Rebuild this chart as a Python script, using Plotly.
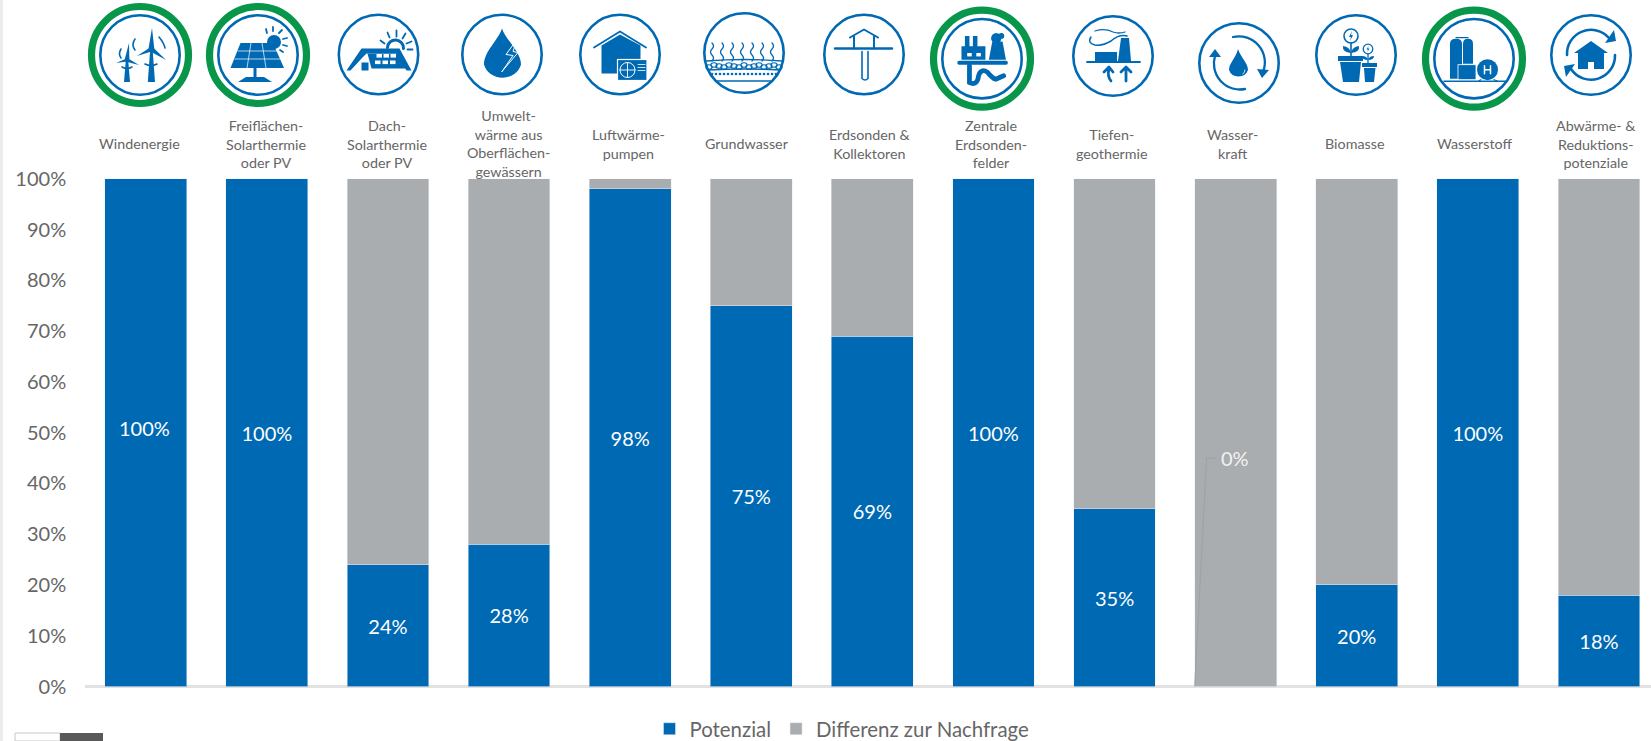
import base64
import plotly.graph_objects as go

CATEGORIES = [
    "Windenergie", "Freiflächen-<br>Solarthermie<br>oder PV", "Dach-<br>Solarthermie<br>oder PV",
    "Umwelt-<br>wärme aus<br>Oberflächen-<br>gewässern", "Luftwärme-<br>pumpen", "Grundwasser",
    "Erdsonden &<br>Kollektoren", "Zentrale<br>Erdsonden-<br>felder", "Tiefen-<br>geothermie",
    "Wasser-<br>kraft", "Biomasse", "Wasserstoff", "Abwärme- &<br>Reduktions-<br>potenziale",
]
POTENZIAL = [100, 100, 24, 28, 98, 75, 69, 100, 35, 0, 20, 100, 18]
DIFFERENZ = [0, 0, 76, 72, 2, 25, 31, 0, 65, 100, 80, 0, 82]
Y_TICKS = [0, 10, 20, 30, 40, 50, 60, 70, 80, 90, 100]
SERIES_NAMES = ["Potenzial", "Differenz zur Nachfrage"]

BLUE = "#0069b4"
GRAY = "#a9adb0"
GREEN = "#07964a"
TEXT = "#666666"
W, H = 1651, 741

B = BLUE
def rect(x0, y0, x1, y1, fill=B, extra=""):
    return f'<rect x="{x0}" y="{y0}" width="{x1-x0}" height="{y1-y0}" fill="{fill}" {extra}/>'
def poly(pts, fill=B, extra=""):
    return f'<polygon points="{pts}" fill="{fill}" {extra}/>'
def stroke(d, w=1.5, col=B, extra=""):
    return f'<path d="{d}" fill="none" stroke="{col}" stroke-width="{w}" stroke-linecap="round" stroke-linejoin="round" {extra}/>'
def fill(d, col=B):
    return f'<path d="{d}" fill="{col}"/>'
def disc(x, y, r, col=B, extra=""):
    return f'<circle cx="{x}" cy="{y}" r="{r}" fill="{col}" {extra}/>'

def turbine(hx, hy, base, bw, up, left, right, scale=1.0):
    s = poly(f"{hx-1.2},{hy} {hx+1.2},{hy} {hx+bw},{base} {hx-bw},{base}")
    for tx, ty in (up, left, right):
        nx, ny = -(ty-hy)*0.14, (tx-hx)*0.14
        s += poly(f"{hx+nx},{hy+ny} {tx},{ty} {hx-nx},{hy-ny}")
    s += disc(hx, hy, 2.2*scale)
    return s

wind = (
    turbine(11.4, -5.7, 27, 3.6, (12, -27), (-3, 1), (26, 5))
    + turbine(-13, 5, 27, 3.0, (-11, -12), (-24, 8), (-1, 10), 0.8)
    + stroke("M-19,-6 Q-22,-1 -19,3", 1.6) + stroke("M-5,-16 Q-9,-10 -5,-5", 1.6)
    + stroke("M19,-18 Q24,-12 25,-7", 1.6) + stroke("M5,9 Q11,12 17,9", 1.6)
    + stroke("M-18,12 Q-13,15 -8,12", 1.6)
)
grid_lines = "".join(
    stroke(d, 0.7, "#ffffff")
    for d in ["M-20,-4 L21,-4", "M-23,4 L24,4", "M-7,-12 L-11,13", "M4,-12 L8,13"]
)
solar = (
    poly("-17.5,-12 15,-12 26,13 -27.5,13") + grid_lines
    + rect(-4.5, 13, -1.5, 24) + poly("-20,27 -12,22 6,22 14,27")
    + disc(16, -13, 7) + stroke("M9,-22 L8,-26 M15,-24 L15,-28 M21,-22 L24,-25 M25,-16 L29,-17 M25,-10 L29,-9 M22,-5 L25,-3", 1.8)
)
roof_cells = "".join(
    rect(x, y, x + 5.5, y + 3.6, "#ffffff")
    for x, y in [(-2, -0.5), (5, -0.5), (12, -0.5), (-3.5, 6), (4, 6), (11.5, 6)]
)
dach = (
    poly("-32,16 -17,-6 21,-6 33,16 28,16 18,-1 -12,-1 -16,3 -28,16")
    + poly("-11,-1 19,-1 30,14 -7,14") + roof_cells
    + rect(-17, 8, -10, 16)
    + stroke("M9,-7 A8,8 0 0 1 25,-6", 3)
    + stroke("M2,-14 L6,-11 M9,-22 L11,-17 M18,-24 L18,-18 M27,-21 L24,-16 M33,-13 L28,-11 M34,-5 L29,-5", 1.8)
)
drop = (
    fill("M0,-26 C4,-14 19,-3 19,10 A19,17 0 0 1 -18,10 C-18,-3 -4,-14 0,-26 Z")
    + stroke("M15,-15 L4,0 L11,1 L0,17 M15,-15 L11,-3 L16,-2 L0,17", 1, "#ffffff")
)
luft = (
    poly("-18.5,-9 0,-20 20.5,-9 20.5,19 -18.5,19")
    + stroke("M-26,-7 L0,-23 L26,-7", 1.8)
    + rect(-2.5, 5, 27, 26, B, 'stroke="#ffffff" stroke-width="1.2"')
    + f'<circle cx="7.5" cy="15.5" r="7.5" fill="none" stroke="#fff" stroke-width="1"/>'
    + stroke("M0,15.5 L15,15.5 M7.5,8 L7.5,23", 0.9, "#ffffff")
    + stroke("M18,10 L25,10 M18,13 L25,13 M18,16 L25,16", 0.8, "#ffffff")
)
wave_paths = "".join(
    stroke(f"M{x},-10 q3,3 0,6 q-3,3 0,6 q3,3 0,6", 1.3) for x in range(-32, 34, 10)
)
pebbles_a = "".join(
    f'<ellipse cx="{x}" cy="{12 + (abs(x) % 3)}" rx="3.1" ry="2.3" fill="none" stroke="{B}" stroke-width="1.1"/>'
    for x in range(-35, 37, 5)
)
pebbles_b = "".join(
    disc(x, 21 + (abs(x) % 4), 1.3) for x in range(-32, 34, 4)
)
grund = (
    wave_paths + pebbles_a + pebbles_b
    + stroke("M-38,8 Q0,5 38,8", 1.4) + stroke("M-36,17 Q0,15 36,17", 1.4)
    + stroke("M-28,28 L28,28", 1.6)
)
erd = (
    stroke("M-29,-6 L28,-6", 2.4)
    + stroke("M-10,-6 L-10,-18 M10,-6 L10,-18", 2)
    + stroke("M-14,-17 L0,-25 L14,-17", 2)
    + stroke("M-2,-3 L-2,24 Q1,27 4,24 L4,-3", 1.6)
)
zentral = (
    '<g transform="translate(0,0) scale(1.14)">'
    + poly("-18,1 -18,-11 -15,-11 -15,-20 -11,-20 -11,-11 -8,-11 -8,-20 -4,-20 -4,-11 3,-11 3,1")
    + rect(-13, -5, -9, -2, "#ffffff") + rect(-5, -5, -1, -2, "#ffffff")
    + poly("9,-15 18,-15 21,1 6,1") + disc(12.5, -18, 4.5) + disc(17, -20, 2.5)
    + stroke("M-20,3.5 L21,3.5", 3.4)
    + stroke("M-11,6 L-11,21 M-11,21 Q-4,24 -3,15 Q-1,8 5,12 Q9,17 12,18 L19,15", 4.2)
    + "</g>"
)
tiefen = (
    poly("-18,-4 4,-4 4,5 -18,5") + poly("8,-18 16,-18 18,5 5,5")
    + stroke("M-26,6 L27,6", 1.8)
    + stroke("M-22,-19 Q-26,-13 -18,-11 Q-10,-10 -2,-15 Q6,-22 14,-20", 1.5)
    + stroke("M-18,-25 Q-8,-28 0,-24 Q6,-22 12,-24", 1.3)
    + stroke("M-2,25 Q-6,20 -4,13 M-9,16 L-4,11 L0,16", 2.8)
    + stroke("M13,25 L13,13 M8,16 L13,11 L18,16", 2.8)
)
wasser = (
    fill("M-1,-14 C2,-5 9,0 9,7 A10,9.5 0 0 1 -10,7 C-10,0 -3,-5 -1,-14 Z")
    + stroke("M4,11 Q6,9 6,7", 0.8, "#ffffff")
    + stroke("M-6,-26 A26,26 0 0 1 24,9", 2.3) + poly("18,6 30,7 23,15")
    + stroke("M6,26 A26,26 0 0 1 -24,-7", 2.3) + poly("-30,-6 -18,-6 -24,-14")
)
bio_flower = (
    f'<circle cx="-5" cy="-19" r="7" fill="none" stroke="{B}" stroke-width="1.6"/>'
    + poly("-4,-24 -7,-18 -5,-18 -6,-14 -3,-20 -5,-20")
    + stroke("M-5,-12 L-5,1", 1.6) + fill("M-5,-2 Q-14,-3 -13,-9 Q-6,-8 -5,-2 Z") + fill("M-5,-2 Q4,-3 3,-9 Q-4,-8 -5,-2 Z")
    + f'<circle cx="12" cy="-6" r="4.8" fill="none" stroke="{B}" stroke-width="1.3"/>'
    + poly("12.5,-9 10.5,-5.5 12,-5.5 11.5,-3 13.5,-6.5 12,-6.5")
    + stroke("M12,-1 L12,8", 1.3) + fill("M12,5 Q6,5 6,1 Q11,1 12,5 Z") + fill("M12,5 Q18,5 18,1 Q13,1 12,5 Z")
)
bio = (
    bio_flower + rect(-18, 1, 7, 6) + poly("-16,7 5,7 3,27 -13,27")
    + rect(6, 8, 21, 12) + poly("8,13 19.5,13 18,27 9,27")
)
h2 = (
    fill("M-24,20 L-24,-15 Q-24,-20 -18,-20 Q-12,-20 -12,-15 L-12,20 Z")
    + fill("M-11,5 L-11,-15 Q-11,-20 -6,-20 Q-1,-20 -1,-15 L-1,5 Z")
    + stroke("M-18,-21 L-6,-21", 1.2)
    + rect(-16, 6, 2, 21, B, 'stroke="#ffffff" stroke-width="0.8"')
    + disc(13.5, 11, 10.5, B)
    + stroke("M10.5,7 L10.5,15 M16.5,7 L16.5,15 M10.5,11 L16.5,11", 1.5, "#ffffff")
    + stroke("M7,21 L5,22 M20,21 L23,22", 1.2)
    + stroke("M-30,22.5 L33,22.5", 1.5)
)
abw = (
    poly("0,-14 17,-2 13,-2 13,14 -13,14 -13,-2 -17,-2") + rect(-3, 7, 3, 14, "#ffffff")
    + stroke("M-24,0 A24,24 0 0 1 18,-17", 2.6) + poly("14,-12 25,-14 23,-25")
    + stroke("M24,0 A24,24 0 0 1 -20,14", 2.6) + poly("-16,9 -27,11 -25,22")
)

# Glyph, centre of the circle in page pixels, highlighted ring
ICONS = [
    (wind, 140, 55, True), (solar, 258, 55, True), (dach, 378.5, 54.5, False),
    (drop, 502, 54.5, False), (luft, 620, 54.5, False), (grund, 744, 53, False),
    (erd, 864, 54.5, False), (zentral, 982, 58.7, True), (tiefen, 1113, 56, False),
    (wasser, 1239, 63, False), (bio, 1356, 55, False), (h2, 1474, 58.7, True),
    (abw, 1591, 55, False),
]
ICON_BOX = 110

def icon_image(glyph, cx, cy, ring):
    body = f'<circle r="39.7" fill="#fff" stroke="{B}" stroke-width="2.6"/>'
    if ring:
        body = f'<circle r="48.5" fill="none" stroke="{GREEN}" stroke-width="7.2"/>' + body
    half = ICON_BOX / 2
    svg = (
        f'<svg xmlns="http://www.w3.org/2000/svg" width="{ICON_BOX*2}" height="{ICON_BOX*2}" '
        f'viewBox="{-half} {-half} {ICON_BOX} {ICON_BOX}">{body}{glyph}</svg>'
    )
    src = "data:image/svg+xml;base64," + base64.b64encode(svg.encode()).decode()
    return dict(
        source=src, xref="paper", yref="paper", x=(cx - half) / W, y=1 - (cy - half) / H,
        sizex=ICON_BOX / W, sizey=ICON_BOX / H, xanchor="left", yanchor="top",
        sizing="stretch", layer="above",
    )

# Wind and the zero-height hydro bar carry their labels as annotations
bar_text = [
    "" if i == 0 or v == 0 else f"{v}%" for i, v in enumerate(POTENZIAL)
]

fig = go.Figure()
fig.add_bar(
    name=SERIES_NAMES[0], x=CATEGORIES, y=POTENZIAL, marker_color=BLUE, width=0.675,
    text=bar_text, textposition="inside", insidetextanchor="middle", textangle=0,
    constraintext="none", textfont=dict(color="white", size=20, family="Lato"),
)
fig.add_bar(
    name=SERIES_NAMES[1], x=CATEGORIES, y=DIFFERENZ, marker_color=GRAY, width=0.675,
)

LABEL_SHIFT = [-6, -1, -1, -1, -2, -4, -3, -2, -3, -3, -2, -3, -3]
annotations = [
    dict(
        x=c, y=1 - 143.5 / H, xref="x", yref="paper", text=c, showarrow=False,
        xshift=s, yanchor="middle", xanchor="center", align="center",
        font=dict(family="Lato", size=14.3, color=TEXT),
    )
    for c, s in zip(CATEGORIES, LABEL_SHIFT)
]
annotations.append(dict(
    x=CATEGORIES[0], y=POTENZIAL[0] / 2, xref="x", yref="y", text=f"{POTENZIAL[0]}%",
    showarrow=False, yshift=5, xshift=-1, font=dict(family="Lato", size=20, color="white"),
))
annotations.append(dict(
    x=CATEGORIES[9], y=45, xref="x", yref="y", text=f"{POTENZIAL[9]}%",
    showarrow=False, xshift=-1, font=dict(family="Lato", size=20, color="#f2f2f2"),
))

shapes = [
    # Leader line of the hydro label
    dict(type="path", xref="x", yref="y", layer="above",
         path="M 8.6625,0 L 8.76,45 L 8.84,45",
         line=dict(color="#a0a2a5", width=1.2)),
    # Strip along the left page edge and the small switch in the corner
    dict(type="rect", xref="paper", yref="paper", x0=0, x1=3 / W, y0=0, y1=1,
         fillcolor="#ececec", line_width=0, layer="below"),
    dict(type="rect", xref="paper", yref="paper", x0=15 / W, x1=60 / W, y0=0, y1=1 - 733 / H,
         fillcolor="white", line=dict(color="#c8c8c8", width=1)),
    dict(type="rect", xref="paper", yref="paper", x0=60 / W, x1=103 / W, y0=0, y1=1 - 733 / H,
         fillcolor="#595959", line_width=0),
]

fig.update_layout(
    width=W, height=H, barmode="stack", bargap=0.325,
    margin=dict(l=0, r=0, t=0, b=0, autoexpand=False),
    paper_bgcolor="white", plot_bgcolor="white",
    font=dict(family="Lato", color=TEXT),
    xaxis=dict(
        domain=[85.2 / W, 1], range=[-0.5, 12.43], type="category", showticklabels=False,
        ticks="", showgrid=False, showline=False, zeroline=False,
    ),
    yaxis=dict(
        domain=[1 - 686.5 / H, 1 - 178.8 / H], range=[0, 100], tickvals=Y_TICKS,
        ticktext=[f"{t}%" for t in Y_TICKS], showgrid=False, zeroline=True,
        zerolinecolor="#e2e2e2", zerolinewidth=3, showline=False, ticks="", ticklabelstandoff=18,
        tickfont=dict(family="Lato", size=20, color=TEXT), anchor="x",
    ),
    legend=dict(
        orientation="h", x=842 / W, xanchor="center", y=1 - 729 / H, yanchor="middle",
        font=dict(family="Lato", size=20.4, color=TEXT), traceorder="normal",
        bgcolor="rgba(0,0,0,0)", itemwidth=30,
    ),
    annotations=annotations, shapes=shapes,
    images=[icon_image(*ic) for ic in ICONS],
)

fig.write_html("out.html", config=dict(displayModeBar=False))
